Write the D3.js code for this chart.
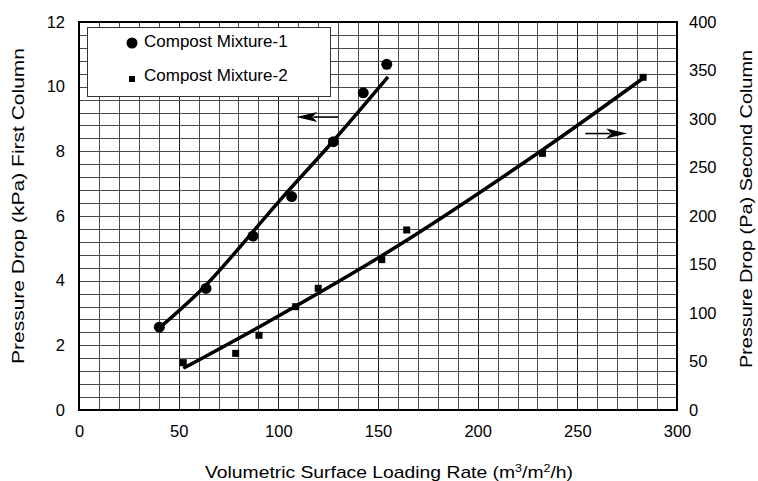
<!DOCTYPE html>
<html>
<head>
<meta charset="utf-8">
<script src="https://cdn.jsdelivr.net/npm/d3@7"></script>
<style>
  body { margin: 0; background: #fff; }
  svg { display: block; font-family: "Liberation Sans", Arial, sans-serif; }
</style>
</head>
<body>
<div id="chart"></div>
<script>
// values
var xTicks = [0, 50, 100, 150, 200, 250, 300];
var yLeftTicks = [0, 2, 4, 6, 8, 10, 12];
var yRightTicks = [0, 50, 100, 150, 200, 250, 300, 350, 400];

// Compost Mixture-1 (kPa, left axis)
var mix1X = [40.3, 63.7, 87.3, 106.7, 127.6, 142.6, 154.4];
var mix1Y = [2.56, 3.76, 5.38, 6.60, 8.30, 9.81, 10.69];
// Compost Mixture-2 (Pa, right axis)
var mix2X = [52.3, 78.6, 90.3, 108.7, 120, 151.9, 164.4, 232.5, 283];
var mix2Y = [48.8, 58.4, 77, 106.5, 125.5, 155, 185.6, 264.6, 343];

// hand drawn fit lines
var fit1X = [40.5, 63.5, 101, 128, 155];
var fit1Y = [2.55, 3.85, 6.5, 8.35, 10.3];
var fit2X = [52.3, 95, 159, 231, 283];
var fit2Y = [43, 91, 168, 266, 342];

var width = 758, height = 481;
var margin = {top: 22, right: 81, bottom: 71, left: 79};

var svg = d3.select("#chart").append("svg")
    .attr("width", width)
    .attr("height", height);

var x = d3.scaleLinear().domain([0, 300]).range([margin.left, width - margin.right]);
var yL = d3.scaleLinear().domain([0, 12]).range([height - margin.bottom, margin.top]);
var yR = d3.scaleLinear().domain([0, 400]).range([height - margin.bottom, margin.top]);

// grid: every 10 on x, every 0.4 kPa on y
var gridX = d3.range(10, 300, 10);
var gridY = d3.range(1, 30).map(function (i) { return i * 0.4; });

var grid = svg.append("g").attr("shape-rendering", "crispEdges");
grid.selectAll(".gx").data(gridX).enter().append("line")
    .attr("x1", function (d) { return Math.round(x(d)) + 0.5; })
    .attr("x2", function (d) { return Math.round(x(d)) + 0.5; })
    .attr("y1", yL(0)).attr("y2", yL(12))
    .attr("stroke", function (d) { return d % 50 === 0 ? "#222" : "#4a4a4a"; })
    .attr("stroke-width", 1);
grid.selectAll(".gy").data(gridY).enter().append("line")
    .attr("y1", function (d) { return Math.round(yL(d)) + 0.5; })
    .attr("y2", function (d) { return Math.round(yL(d)) + 0.5; })
    .attr("x1", x(0)).attr("x2", x(300))
    .attr("stroke", "#4a4a4a")
    .attr("stroke-width", 1);

// legend box (covers grid)
var legend = svg.append("g");
legend.append("rect")
    .attr("x", 87.5).attr("y", 27.5)
    .attr("width", 243).attr("height", 69)
    .attr("fill", "#fff").attr("stroke", "#333").attr("stroke-width", 1);
legend.append("circle").attr("cx", 132).attr("cy", 43).attr("r", 5.5).attr("fill", "#000");
legend.append("text").attr("x", 144).attr("y", 47).attr("font-size", 17).text("Compost Mixture-1");
legend.append("rect").attr("x", 129).attr("y", 76).attr("width", 6).attr("height", 6).attr("fill", "#000");
legend.append("text").attr("x", 144).attr("y", 81).attr("font-size", 17).text("Compost Mixture-2");

// fit lines
var line1 = d3.line()
    .x(function (d) { return x(d[0]); })
    .y(function (d) { return yL(d[1]); })
    .curve(d3.curveCatmullRom);
var line2 = d3.line()
    .x(function (d) { return x(d[0]); })
    .y(function (d) { return yR(d[1]); })
    .curve(d3.curveCatmullRom);

svg.append("path")
    .datum(d3.zip(fit1X, fit1Y))
    .attr("d", line1)
    .attr("fill", "none").attr("stroke", "#000").attr("stroke-width", 3.5);
svg.append("path")
    .datum(d3.zip(fit2X, fit2Y))
    .attr("d", line2)
    .attr("fill", "none").attr("stroke", "#000").attr("stroke-width", 3.5);

// points
svg.selectAll(".m1").data(d3.zip(mix1X, mix1Y)).enter().append("circle")
    .attr("cx", function (d) { return x(d[0]); })
    .attr("cy", function (d) { return yL(d[1]); })
    .attr("r", 5.5)
    .attr("fill", "#000");
svg.selectAll(".m2").data(d3.zip(mix2X, mix2Y)).enter().append("rect")
    .attr("x", function (d) { return x(d[0]) - 3.5; })
    .attr("y", function (d) { return yR(d[1]) - 3.5; })
    .attr("width", 7).attr("height", 7)
    .attr("fill", "#000");

// arrows pointing to the axis each curve belongs to
var arrowLeft = {x1: 130, x2: 109, y: 9.06};
var arrowRight = {x1: 254, x2: 275, y: 285};

function arrow(x1, x2, yy) {
  var dir = x2 > x1 ? 1 : -1;
  var headStart = x2 - dir * 21;
  svg.append("line")
      .attr("x1", x1).attr("x2", headStart + dir * 4).attr("y1", yy).attr("y2", yy)
      .attr("stroke", "#000").attr("stroke-width", 1.6);
  svg.append("path")
      .attr("d", "M" + x2 + "," + yy + "L" + headStart + "," + (yy - 5) +
                 "L" + (headStart + dir * 5) + "," + yy +
                 "L" + headStart + "," + (yy + 5) + "Z")
      .attr("fill", "#000");
}
arrow(x(arrowLeft.x1), x(arrowLeft.x2), yL(arrowLeft.y));
arrow(x(arrowRight.x1), x(arrowRight.x2), yR(arrowRight.y));

// frame
svg.append("rect")
    .attr("x", x(0)).attr("y", yL(12))
    .attr("width", x(300) - x(0)).attr("height", yL(0) - yL(12))
    .attr("fill", "none").attr("stroke", "#000").attr("stroke-width", 2);

// axes
var xAxis = svg.append("g")
    .attr("transform", "translate(0," + yL(0) + ")")
    .call(d3.axisBottom(x).tickValues(xTicks).tickSize(0).tickPadding(15));
var leftAxis = svg.append("g")
    .attr("transform", "translate(" + x(0) + ",0)")
    .call(d3.axisLeft(yL).tickValues(yLeftTicks).tickSize(0).tickPadding(14));
var rightAxis = svg.append("g")
    .attr("transform", "translate(" + x(300) + ",0)")
    .call(d3.axisRight(yR).tickValues(yRightTicks).tickSize(0).tickPadding(12));

[xAxis, leftAxis, rightAxis].forEach(function (a) {
  a.select(".domain").remove();
  a.selectAll("text")
      .attr("font-size", 16.5)
      .attr("font-family", "Liberation Sans, Arial, sans-serif")
      .attr("fill", "#000");
});

// axis titles
var xTitle = svg.append("text")
    .attr("x", 389).attr("y", 478)
    .attr("text-anchor", "middle")
    .attr("font-size", 17)
    .attr("textLength", 368).attr("lengthAdjust", "spacingAndGlyphs");
xTitle.append("tspan").text("Volumetric Surface Loading Rate (m");
xTitle.append("tspan").attr("dy", -6).attr("font-size", 11).text("3");
xTitle.append("tspan").attr("dy", 6).text("/m");
xTitle.append("tspan").attr("dy", -6).attr("font-size", 11).text("2");
xTitle.append("tspan").attr("dy", 6).text("/h)");

svg.append("text")
    .attr("transform", "translate(24,206) rotate(-90)")
    .attr("text-anchor", "middle")
    .attr("font-size", 17)
    .attr("textLength", 316).attr("lengthAdjust", "spacingAndGlyphs")
    .text("Pressure Drop (kPa) First Column");

svg.append("text")
    .attr("transform", "translate(752,209) rotate(-90)")
    .attr("text-anchor", "middle")
    .attr("font-size", 17)
    .attr("textLength", 318).attr("lengthAdjust", "spacingAndGlyphs")
    .text("Pressure Drop (Pa) Second Column");
</script>
</body>
</html>
